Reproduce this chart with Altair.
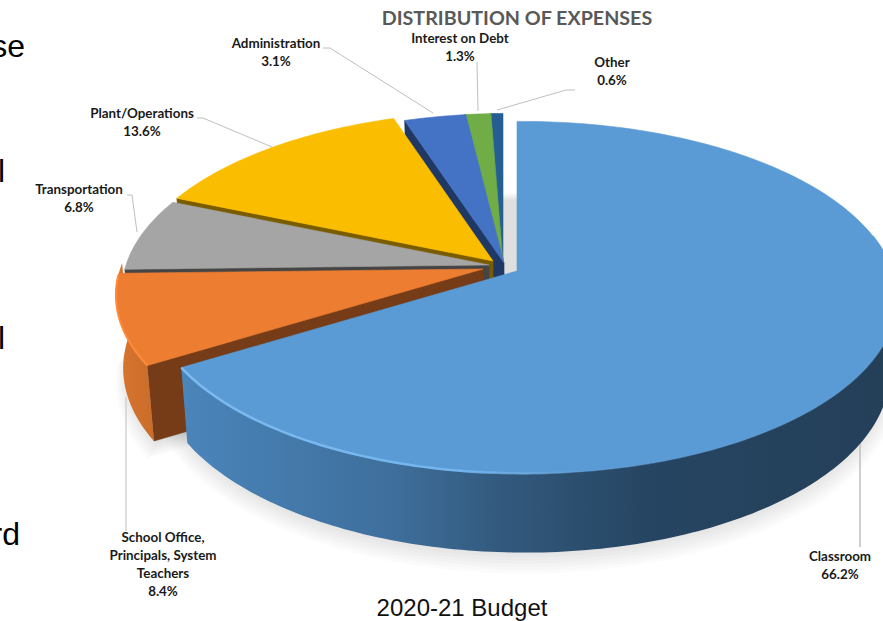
import math
import altair as alt
import pandas as pd

# Budget shares, clockwise from twelve o'clock
NAMES = ["Classroom", "School Office, Principals, System Teachers", "Transportation",
         "Plant/Operations", "Administration", "Interest on Debt", "Other"]
SHARES = [66.2, 8.4, 6.8, 13.6, 3.1, 1.3, 0.6]
TOPS = ["#5B9BD5", "#ED7D31", "#A5A5A5", "#FBBD00", "#4472C4", "#70AD47", "#255E91"]
SIDES = ["#243F58", "#763C18", "#454545", "#7A5C00", "#1F3864", "#375623", "#1B4468"]

LABEL_LINES = [["Classroom"], ["School Office,", "Principals, System", "Teachers"], ["Transportation"],
               ["Plant/Operations"], ["Administration"], ["Interest on Debt"], ["Other"]]

W, H = 883, 621
# Pie plane: radii, perspective terms and thickness
RX, RY, K, M, DEPTH = 369, 172, 0.15, 0.0166, 73
VANISH_X, CONVERGE = 517, 0.018
# Exploded centre of every slice
CENTRES = [(517, 271), (483, 269), (489, 265), (493, 261), (504, 263), (503, 263), (503, 263)]
# Label anchors: centre x, first-line y
ANCHORS = [(840, 557), (163, 538), (79, 190), (142, 114), (276, 44), (460, 39), (612, 63)]

LEADERS = [
    ([(860, 440), (860, 547)], 1.5),
    ([(126, 397), (126, 531)], 1),
    ([(127, 195), (132, 195), (137, 232)], 1),
    ([(197, 118), (203, 118), (272, 147)], 1),
    ([(323, 48), (330, 48), (433, 113)], 1),
    ([(477, 62), (478, 111)], 1),
    ([(575, 90), (566, 90), (497, 110)], 1),
]


def project(centre, angle, scale=1.0, drop=0.0):
    u, v = math.sin(math.radians(angle)), -math.cos(math.radians(angle))
    w = 1 - K * v - M * u
    x = centre[0] + RX * scale * u / w
    x += (VANISH_X - x) * CONVERGE * drop / DEPTH
    return (x, centre[1] + RY * scale * v / w + drop / math.sqrt(w))


def arc_points(centre, a0, a1, scale=1.0, drop=0.0):
    n = max(2, int(abs(a1 - a0)) + 2)
    return [project(centre, a0 + (a1 - a0) * i / (n - 1), scale, drop) for i in range(n)]


def frame(points):
    return pd.DataFrame({"x": [p[0] for p in points], "y": [p[1] for p in points], "i": range(len(points))})


X = alt.X("x:Q", scale=alt.Scale(domain=[0, W]), axis=None)
Y = alt.Y("y:Q", scale=alt.Scale(domain=[H, 0]), axis=None)


def shape(points, fill, opacity=1.0, seam=True):
    closed = list(points) + [points[0]]
    kwargs = {"fill": fill, "strokeWidth": 0.6 if seam else 0, "fillOpacity": opacity}
    kwargs["stroke"] = fill if (seam and isinstance(fill, str)) else "transparent"
    return alt.Chart(frame(closed)).mark_line(**kwargs).encode(x=X, y=Y, order="i:Q")


def stroke(points, color, width, **extra):
    return alt.Chart(frame(points)).mark_line(stroke=color, strokeWidth=width, **extra).encode(x=X, y=Y, order="i:Q")


def gradient(stops):
    return {"gradient": "linear", "x1": 0, "x2": 1, "y1": 0, "y2": 0,
            "stops": [{"offset": o, "color": c} for o, c in stops]}


# Slice boundaries in degrees
edges = [0.0]
for s in SHARES:
    edges.append(edges[-1] + s * 3.6)
edges[-1] = 360.0

layers = []

# Soft ground shadow under the pie
for level in range(8):
    r = 0.985 + 0.0055 * level
    d = DEPTH + 1 + 2 * level
    layers.append(shape(arc_points(CENTRES[0], 0, 360, r, d), "#000000", 0.017, seam=False))
    ring = [project(CENTRES[1], 240, 0, d)] + arc_points(CENTRES[1], edges[1], edges[2], r, d)
    layers.append(shape(ring, "#000000", 0.017, seam=False))

# Leader lines sit behind the slices
for pts, width in LEADERS:
    layers.append(stroke(pts, "#BFBFBF", width))

# Paint from the back slice forward
for idx in [6, 5, 4, 3, 2, 1, 0]:
    c, a0, a1 = CENTRES[idx], edges[idx], edges[idx + 1]
    if idx != 0:
        tip = project(c, a0, 0)
        tip_low = project(c, a0, 0, DEPTH)
        start_rim = project(c, a0)
        start_low = project(c, a0, 1, DEPTH)
        layers.append(shape([tip, start_rim, start_low, tip_low], SIDES[idx]))
    if idx == 1:
        top = arc_points(c, a0, 272)
        low = arc_points(c, 272, a0, 1, DEPTH)
        layers.append(shape(top + low, gradient([(0, "#D9762E"), (1, "#C96C2B")]), seam=False))
    if idx == 0:
        top = arc_points(c, 78, a1)
        low = arc_points(c, a1, 78, 1, DEPTH)
        wall = gradient([(0, "#4A85BB"), (0.3, "#3E6E9B"), (0.45, "#32597D"), (0.65, "#264562"), (1, "#243F58")])
        layers.append(shape(top + low, wall, seam=False))
    layers.append(shape([project(c, a0, 0)] + arc_points(c, a0, a1), TOPS[idx]))
    if idx == 1:
        layers.append(stroke(arc_points(c, a0, 268), "#FF8B3A", 2))
    if idx == 0:
        # Soft shoulder along the front rim, brightening towards the left end
        layers.append(stroke(arc_points(c, 78, 180), "#5B9BD5", 2, opacity=0.5))
        rim = gradient([(0, "#7CBBF2"), (0.7, "#74B4EC"), (1, "rgba(124,187,242,0)")])
        layers.append(stroke(arc_points(c, 172, a1), rim, 2.5))

# Slice labels: name lines followed by the percentage
rows = []
for lines, share, (x, y) in zip(LABEL_LINES, SHARES, ANCHORS):
    for n, t in enumerate(lines + [f"{share}%"]):
        rows.append({"x": x, "y": y + 18 * n, "t": t})
layers.append(alt.Chart(pd.DataFrame(rows)).mark_text(
    font="Lato", fontWeight="bold", fontSize=13.4, color="#1A1A1A", baseline="middle", align="center"
).encode(x=X, y=Y, text="t:N"))

# Chart heading
layers.append(alt.Chart(pd.DataFrame([{"x": 517, "y": 19, "t": "DISTRIBUTION OF EXPENSES"}])).mark_text(
    font="Lato", fontWeight="bold", fontSize=19.7, color="#595959", baseline="middle", align="center"
).encode(x=X, y=Y, text="t:N"))

# Surrounding slide text
slide = pd.DataFrame([
    {"x": 25, "y": 57, "t": "se"},
    {"x": 5, "y": 182, "t": "l"},
    {"x": 5, "y": 349, "t": "l"},
    {"x": 20, "y": 545, "t": "rd"},
])
layers.append(alt.Chart(slide).mark_text(
    font="Liberation Sans", fontSize=32, color="#000000", baseline="alphabetic", align="right"
).encode(x=X, y=Y, text="t:N"))
layers.append(alt.Chart(pd.DataFrame([{"x": 462, "y": 616, "t": "2020-21 Budget"}])).mark_text(
    font="Liberation Sans", fontSize=24, color="#111111", baseline="alphabetic", align="center"
).encode(x=X, y=Y, text="t:N"))

chart = alt.layer(*layers).properties(
    width=W, height=H, padding=0, autosize=alt.AutoSizeParams(type="none"), background="white"
).configure_view(stroke=None)

chart.save("out.html", embed_options={"renderer": "svg", "actions": False})
